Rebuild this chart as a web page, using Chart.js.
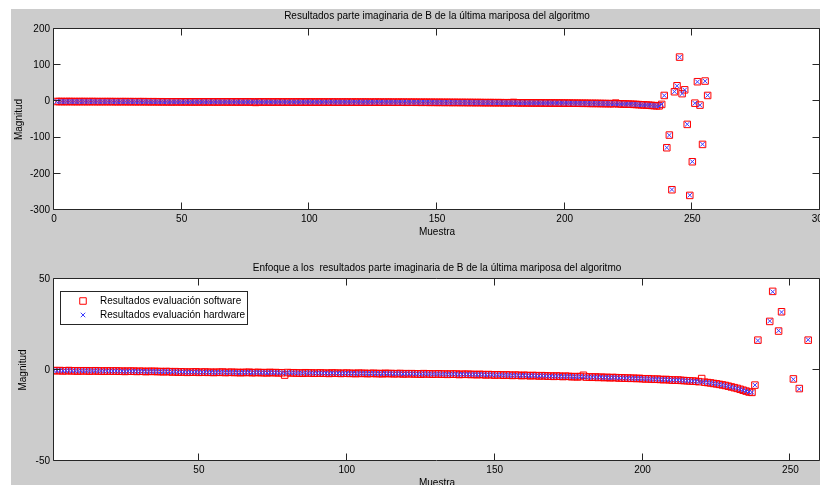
<!DOCTYPE html>
<html>
<head>
<meta charset="utf-8">
<script src="https://cdn.jsdelivr.net/npm/chart.js@4/dist/chart.umd.min.js"></script>
<style>
  html, body { margin: 0; padding: 0; background: #fff; }
  #fig { position: relative; width: 820px; height: 485px; overflow: hidden; background: #fff; }
  #panel { position: absolute; left: 11px; top: 9px; width: 900px; height: 500px; background: #cccccc; }
  #topPlot { position: absolute; left: 0; top: 0; width: 900px; height: 245px; }
  #zoomPlot { position: absolute; left: 0; top: 245px; width: 900px; height: 260px; }
</style>
</head>
<body>
<div id="fig">
  <div id="panel"></div>
  <canvas id="topPlot" width="900" height="245"></canvas>
  <canvas id="zoomPlot" width="900" height="260"></canvas>
</div>
<script>
// Imaginary part of B after the last butterfly stage (256 samples)
const software = [
  -0.3, -0.4, -0.3, -0.5, -0.4, -0.3, -0.5, -0.4, -0.6, -0.4,
  -0.5, -0.4, -0.6, -0.5, -0.4, -0.6, -0.5, -0.7, -0.5, -0.6,
  -0.6, -0.5, -0.7, -0.6, -0.8, -0.6, -0.7, -0.6, -0.8, -0.7,
  -0.7, -0.9, -0.7, -0.8, -0.7, -0.9, -0.8, -1.0, -0.8, -0.9,
  -1.1, -0.9, -1.2, -1.0, -1.1, -1.3, -1.1, -1.2, -1.0, -1.3,
  -1.2, -1.1, -1.3, -1.2, -1.4, -1.2, -1.3, -1.1, -1.4, -1.3,
  -1.2, -1.4, -1.3, -1.5, -1.3, -1.4, -1.2, -1.5, -1.4, -1.3,
  -1.5, -1.4, -1.6, -1.3, -1.5, -1.4, -1.6, -1.5, -2.8, -1.4,
  -1.6, -1.5, -1.7, -1.6, -1.8, -1.5, -1.7, -1.6, -1.8, -1.7,
  -1.6, -1.8, -1.7, -1.9, -1.6, -1.8, -1.7, -1.9, -1.8, -1.7,
  -1.9, -1.8, -2.0, -1.7, -1.9, -1.8, -2.0, -1.9, -1.8, -2.0,
  -1.9, -2.1, -1.8, -2.0, -1.9, -2.1, -2.0, -1.9, -2.2, -2.0,
  -2.1, -2.0, -2.2, -2.1, -2.3, -2.0, -2.2, -2.1, -2.3, -2.2,
  -2.1, -2.3, -2.2, -2.4, -2.2, -2.3, -2.2, -2.5, -2.3, -2.4,
  -2.3, -2.5, -2.4, -2.6, -2.4, -2.5, -2.7, -2.5, -2.6, -2.8,
  -2.6, -2.7, -2.9, -2.7, -2.8, -3.0, -2.8, -2.9, -3.1, -2.9,
  -3.0, -3.2, -3.0, -3.1, -3.3, -3.1, -3.2, -3.4, -3.3, -3.5,
  -3.3, -3.4, -3.6, -3.4, -3.5, -3.7, -3.6, -3.8, -3.6, -2.9,
  -3.9, -3.8, -4.0, -3.8, -4.1, -3.9, -4.2, -4.0, -4.3, -4.1,
  -4.2, -4.4, -4.3, -4.5, -4.4, -4.6, -4.5, -4.7, -4.6, -4.8,
  -4.9, -4.8, -5.0, -5.1, -5.0, -5.2, -5.3, -5.2, -5.4, -5.5,
  -5.6, -5.5, -5.7, -5.8, -5.9, -6.0, -6.1, -6.2, -6.4, -4.7,
  -6.7, -6.9, -7.1, -7.4, -7.6, -7.9, -8.2, -8.5, -8.9, -9.3,
  -9.7, -10.1, -10.6, -11.1, -11.6, -12.1, -12.3, -8.3, 16.4, -128.0,
  -93.0, -244.0, 26.7, 43.2, 122.4, 21.4, 32.0, -63.5, -259.7, -166.7,
  -4.9, 54.4, -10.2, -118.8, 56.2, 16.4
];
const hardware = [
  -0.3, -0.4, -0.3, -0.5, -0.4, -0.3, -0.5, -0.4, -0.6, -0.4,
  -0.5, -0.4, -0.6, -0.5, -0.4, -0.6, -0.5, -0.7, -0.5, -0.6,
  -0.6, -0.5, -0.7, -0.6, -0.8, -0.6, -0.7, -0.6, -0.8, -0.7,
  -0.7, -0.9, -0.7, -0.8, -0.7, -0.9, -0.8, -1.0, -0.8, -0.9,
  -1.1, -0.9, -1.2, -1.0, -1.1, -1.3, -1.1, -1.2, -1.0, -1.3,
  -1.2, -1.1, -1.3, -1.2, -1.4, -1.2, -1.3, -1.1, -1.4, -1.3,
  -1.2, -1.4, -1.3, -1.5, -1.3, -1.4, -1.2, -1.5, -1.4, -1.3,
  -1.5, -1.4, -1.6, -1.3, -1.5, -1.4, -1.6, -1.5, -1.7, -1.4,
  -1.6, -1.5, -1.7, -1.6, -1.8, -1.5, -1.7, -1.6, -1.8, -1.7,
  -1.6, -1.8, -1.7, -1.9, -1.6, -1.8, -1.7, -1.9, -1.8, -1.7,
  -1.9, -1.8, -2.0, -1.7, -1.9, -1.8, -2.0, -1.9, -1.8, -2.0,
  -1.9, -2.1, -1.8, -2.0, -1.9, -2.1, -2.0, -1.9, -2.2, -2.0,
  -2.1, -2.0, -2.2, -2.1, -2.3, -2.0, -2.2, -2.1, -2.3, -2.2,
  -2.1, -2.3, -2.2, -2.4, -2.2, -2.3, -2.2, -2.5, -2.3, -2.4,
  -2.3, -2.5, -2.4, -2.6, -2.4, -2.5, -2.7, -2.5, -2.6, -2.8,
  -2.6, -2.7, -2.9, -2.7, -2.8, -3.0, -2.8, -2.9, -3.1, -2.9,
  -3.0, -3.2, -3.0, -3.1, -3.3, -3.1, -3.2, -3.4, -3.3, -3.5,
  -3.3, -3.4, -3.6, -3.4, -3.5, -3.7, -3.6, -3.8, -3.6, -3.7,
  -3.9, -3.8, -4.0, -3.8, -4.1, -3.9, -4.2, -4.0, -4.3, -4.1,
  -4.2, -4.4, -4.3, -4.5, -4.4, -4.6, -4.5, -4.7, -4.6, -4.8,
  -4.9, -4.8, -5.0, -5.1, -5.0, -5.2, -5.3, -5.2, -5.4, -5.5,
  -5.6, -5.5, -5.7, -5.8, -5.9, -6.0, -6.1, -6.2, -6.4, -6.5,
  -6.7, -6.9, -7.1, -7.4, -7.6, -7.9, -8.2, -8.5, -8.9, -9.3,
  -9.7, -10.1, -10.6, -11.1, -11.6, -12.1, -12.3, -8.3, 16.2, -127.6,
  -93.3, -243.5, 26.9, 43.0, 121.9, 21.6, 31.8, -63.2, -259.1, -166.3,
  -5.1, 54.1, -10.4, -118.4, 55.9, 16.6
];
// sample number n = 1..256
const sampleIndex = software.map((_, i) => i + 1);

const topXTicks = [0, 50, 100, 150, 200, 250, 300];
const topYTicks = [-300, -200, -100, 0, 100, 200];
const zoomXTicks = [50, 100, 150, 200, 250];
const zoomYTicks = [-50, 0, 50];

const seriesNames = ['Resultados evaluación software', 'Resultados evaluación hardware'];
const titles = [
  'Resultados parte imaginaria de B de la última mariposa del algoritmo',
  'Enfoque a los  resultados parte imaginaria de B de la última mariposa del algoritmo'
];

const FONT = '"Liberation Sans", Arial, Helvetica, sans-serif';
const AXIS_COLOR = '#262626';
const TICK_LEN = 7;
const SQUARE_COLOR = '#ff0000';
const CROSS_COLOR = '#3c3cff';

function points(values) {
  return sampleIndex.map((n, i) => ({ x: n, y: values[i] }));
}

function makeDatasets() {
  return [
    {
      label: seriesNames[0],
      data: points(software),
      pointStyle: 'rect',
      pointRadius: 4.6,
      pointBorderWidth: 1,
      borderColor: SQUARE_COLOR,
      pointBorderColor: SQUARE_COLOR,
      pointBackgroundColor: 'rgba(0,0,0,0)',
      showLine: false,
      order: 1
    },
    {
      label: seriesNames[1],
      data: points(hardware),
      pointStyle: 'crossRot',
      pointRadius: 3.2,
      pointBorderWidth: 1,
      borderColor: CROSS_COLOR,
      pointBorderColor: CROSS_COLOR,
      pointBackgroundColor: CROSS_COLOR,
      showLine: false,
      order: 0
    }
  ];
}

// white plot box, black frame and inward tick marks on all four sides
const framePlugin = {
  id: 'frame',
  beforeDraw(chart) {
    const { ctx, chartArea: a } = chart;
    ctx.save();
    ctx.fillStyle = '#ffffff';
    ctx.fillRect(a.left, a.top, a.right - a.left, a.bottom - a.top);
    ctx.restore();
  },
  afterDraw(chart) {
    const { ctx, chartArea: a, scales } = chart;
    const L = Math.round(a.left) - 0.5, R = Math.round(a.right) - 0.5;
    const T = Math.round(a.top) - 0.5, B = Math.round(a.bottom) - 0.5;
    ctx.save();
    ctx.strokeStyle = AXIS_COLOR;
    ctx.lineWidth = 1;
    ctx.beginPath();
    ctx.rect(L, T, R - L, B - T);
    scales.x.ticks.forEach(t => {
      const px = Math.round(scales.x.getPixelForValue(t.value)) - 0.5;
      ctx.moveTo(px, B); ctx.lineTo(px, B - TICK_LEN);
      ctx.moveTo(px, T); ctx.lineTo(px, T + TICK_LEN);
    });
    scales.y.ticks.forEach(t => {
      const py = Math.round(scales.y.getPixelForValue(t.value)) - 0.5;
      ctx.moveTo(L, py); ctx.lineTo(L + TICK_LEN, py);
      ctx.moveTo(R, py); ctx.lineTo(R - TICK_LEN, py);
    });
    ctx.stroke();
    ctx.restore();
  }
};

// boxed legend in the upper-left corner of the plot
const boxLegendPlugin = {
  id: 'boxLegend',
  afterDraw(chart, args, opts) {
    if (!opts.show) return;
    const { ctx, chartArea: a } = chart;
    const x0 = Math.round(a.left) + 6.5, y0 = Math.round(a.top) + 12.5;
    ctx.save();
    ctx.fillStyle = '#ffffff';
    ctx.fillRect(x0, y0, 187, 33);
    ctx.strokeStyle = AXIS_COLOR;
    ctx.lineWidth = 1;
    ctx.strokeRect(x0, y0, 187, 33);
    ctx.font = '10px ' + FONT;
    ctx.textBaseline = 'middle';
    ctx.textAlign = 'left';
    chart.data.datasets.forEach((ds, i) => {
      const my = a.top + 22 + i * 14;
      const mx = a.left + 29;
      ctx.lineWidth = 1;
      ctx.strokeStyle = ds.pointBorderColor;
      ctx.beginPath();
      if (ds.pointStyle === 'rect') {
        const h = ds.pointRadius * Math.SQRT1_2;
        ctx.rect(mx - h, my - h, 2 * h, 2 * h);
      } else {
        const h = ds.pointRadius * Math.SQRT1_2;
        ctx.moveTo(mx - h, my - h); ctx.lineTo(mx + h, my + h);
        ctx.moveTo(mx - h, my + h); ctx.lineTo(mx + h, my - h);
      }
      ctx.stroke();
      ctx.fillStyle = '#000000';
      ctx.fillText(ds.label, a.left + 46, my + 0.5);
    });
    ctx.restore();
  }
};

function makeChart(canvasId, cfg) {
  const font = { family: FONT, size: 10, weight: 'normal' };
  return new Chart(document.getElementById(canvasId), {
    type: 'scatter',
    data: { datasets: makeDatasets() },
    plugins: [framePlugin, boxLegendPlugin],
    options: {
      responsive: false,
      animation: false,
      events: [],
      layout: { padding: { left: 0, right: 80, top: 0, bottom: 0 } },
      plugins: {
        legend: { display: false },
        tooltip: { enabled: false },
        title: {
          display: true,
          text: cfg.title,
          fullSize: false,
          color: '#000',
          font: font,
          padding: cfg.titlePad
        },
        boxLegend: { show: cfg.legend }
      },
      scales: {
        x: {
          type: 'linear',
          position: 'bottom',
          min: cfg.xMin,
          max: cfg.xMax,
          grid: { display: false, drawTicks: false },
          border: { display: false },
          ticks: { color: '#000', font: font, padding: 3, autoSkip: false, maxRotation: 0 },
          afterBuildTicks: s => { s.ticks = cfg.xTicks.map(v => ({ value: v })); },
          afterFit: s => { s.height = cfg.xAxisHeight; s.paddingLeft = 0; s.paddingRight = 0; },
          title: { display: true, text: 'Muestra', color: '#000', font: font, padding: { top: 0, bottom: cfg.xTitlePad } }
        },
        y: {
          type: 'linear',
          position: 'left',
          min: cfg.yMin,
          max: cfg.yMax,
          grid: { display: false, drawTicks: false },
          border: { display: false },
          ticks: { color: '#000', font: font, padding: 4, autoSkip: false },
          afterBuildTicks: s => { s.ticks = cfg.yTicks.map(v => ({ value: v })); },
          afterFit: s => { s.width = 54; s.paddingTop = 0; s.paddingBottom = 0; },
          title: { display: true, text: 'Magnitud', color: '#000', font: font, padding: { top: cfg.yTitlePad, bottom: 0 } }
        }
      }
    }
  });
}

makeChart('topPlot', {
  title: titles[0], titlePad: { top: 10.7, bottom: 6.3 },
  xMin: 0, xMax: 300, xTicks: topXTicks,
  yMin: -300, yMax: 200, yTicks: topYTicks,
  xAxisHeight: 35, xTitlePad: 6.5, yTitlePad: 13, legend: false
});

makeChart('zoomPlot', {
  title: titles[1], titlePad: { top: 17, bottom: 5 },
  xMin: 1, xMax: 260, xTicks: zoomXTicks,
  yMin: -50, yMax: 50, yTicks: zoomYTicks,
  xAxisHeight: 44, xTitlePad: 15.5, yTitlePad: 17.5, legend: true
});
</script>
</body>
</html>
